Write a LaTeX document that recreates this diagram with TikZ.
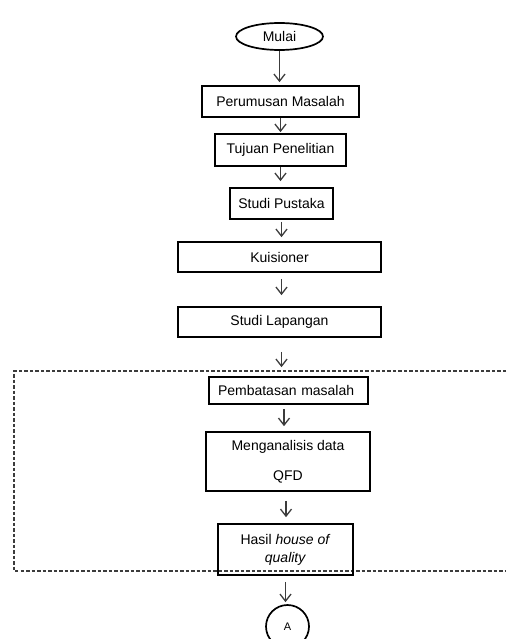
\documentclass[tikz,border=0pt]{standalone}
\usepackage{fontspec}
\setmainfont{Liberation Sans}
\usetikzlibrary{arrows.meta,shapes.geometric}
\definecolor{panahGray}{RGB}{60,60,60}
\definecolor{garisGray}{RGB}{60,60,60}

\begin{document}
\begin{tikzpicture}[x=1pt, y=-1pt,
    kotak/.style={draw, line width=1.7pt, inner sep=0pt, align=center, font=\fontsize{14}{16}\selectfont},
    panah/.style={-{Straight Barb[length=7pt,width=11pt]}, line width=1.3pt, panahGray}]
    \useasboundingbox (0,0) rectangle (506,639);

    % area yang dibatasi garis putus-putus
    \draw[garisGray, line width=1.2pt, dash pattern=on 3.5pt off 2pt] (506,371) -- (14,371) -- (14,571) -- (506,571);

    \node[kotak, ellipse, minimum width=87, minimum height=27] (mulai) at (279.5,36.5) {Mulai};
    \node[kotak, minimum width=157, minimum height=31] (rumusan) at (280.5,101.5) {Perumusan Masalah};
    \node[kotak, minimum width=131, minimum height=32] (tujuan) at (280.5,150) {Tujuan Penelitian};
    \node[kotak, minimum width=103, minimum height=31] (pustaka) at (281.5,203.5) {Studi Pustaka};
    \node[kotak, minimum width=203, minimum height=30] (kuisioner) at (279.5,257) {Kuisioner};
    \node[kotak, minimum width=203, minimum height=30] (lapangan) at (279.5,322) {Studi Lapangan};
    \node[kotak, minimum width=159, minimum height=27, text width=141, inner xsep=9, align=left] (batasan) at (288.5,390.5) {Pembatasan masalah};
    \node[kotak, minimum width=164, minimum height=59] (analisis) at (288,461.5) {Menganalisis data\\[14pt]QFD};
    \node[kotak, minimum width=135, minimum height=51] (hasil) at (285.5,549.5) {Hasil \textit{house of}\\[2pt]\textit{quality}};
    \node[kotak, circle, minimum size=43, font=\fontsize{11}{13}\selectfont] (konektor) at (287.5,626.5) {A};

    % panah
    \draw[panah, shorten >=3pt] (mulai.south) -- (mulai.south |- rumusan.north);
    \draw[panah, shorten >=1pt] (rumusan.south) -- (rumusan.south |- tujuan.north);
    \draw[panah, shorten >=6pt] (tujuan.south) -- (tujuan.south |- pustaka.north);
    \draw[panah, shorten <=2pt, shorten >=4pt] (pustaka.south) -- (pustaka.south |- kuisioner.north);
    \draw[panah, shorten <=6pt, shorten >=11pt] ([xshift=2pt]kuisioner.south) -- ([xshift=2pt]kuisioner.south |- lapangan.north);
    \draw[panah, shorten <=14pt, shorten >=9pt] ([xshift=2pt]lapangan.south) -- ([xshift=2pt]lapangan.south |- batasan.north);
    \draw[panah, shorten <=4pt, shorten >=5pt] ([xshift=-4.5pt]batasan.south) -- ([xshift=-4.5pt]batasan.south |- analisis.north);
    \draw[panah, shorten <=9pt, shorten >=6pt] ([xshift=-2pt]analisis.south) -- ([xshift=-2pt]analisis.south |- hasil.north);
    \draw[panah, shorten <=6pt, shorten >=2pt] (hasil.south) -- (hasil.south |- konektor.north);
\end{tikzpicture}
\end{document}
